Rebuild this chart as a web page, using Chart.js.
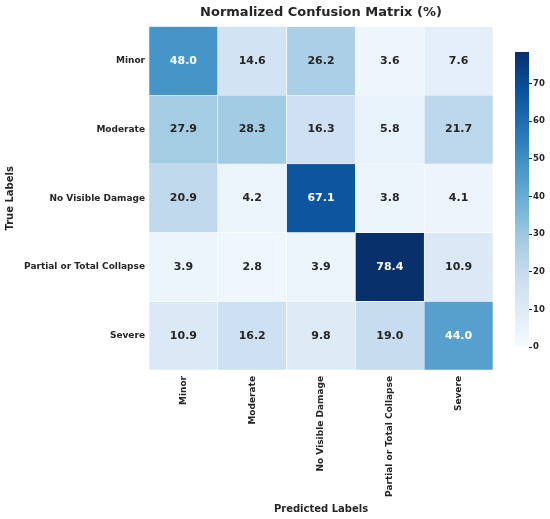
<!DOCTYPE html>
<html>
<head>
<meta charset="utf-8">
<script src="https://cdn.jsdelivr.net/npm/chart.js@4.4.1/dist/chart.umd.min.js"></script>
<style>
  body { margin: 0; background: #fff; }
  #wrap { position: relative; width: 550px; height: 519px; }
  #wrap canvas { position: absolute; left: 0; top: 0; }
</style>
</head>
<body>
<div id="wrap">
  <canvas id="heat" width="550" height="519"></canvas>
  <canvas id="cbar" width="550" height="519"></canvas>
</div>
<script>
"use strict";

const predictedLabels = ["Minor", "Moderate", "No Visible Damage", "Partial or Total Collapse", "Severe"];
const trueLabels = ["Minor", "Moderate", "No Visible Damage", "Partial or Total Collapse", "Severe"];

// one row per true label, in percent
const rowMinor = [48.0, 14.6, 26.2, 3.6, 7.6];
const rowModerate = [27.9, 28.3, 16.3, 5.8, 21.7];
const rowNoDamage = [20.9, 4.2, 67.1, 3.8, 4.1];
const rowCollapse = [3.9, 2.8, 3.9, 78.4, 10.9];
const rowSevere = [10.9, 16.2, 9.8, 19.0, 44.0];
const matrix = [rowMinor, rowModerate, rowNoDamage, rowCollapse, rowSevere];

const colorbarTicks = [0, 10, 20, 30, 40, 50, 60, 70];
const vmin = 0;
const vmax = 78.4;

const FONT = "'DejaVu Sans', sans-serif";
const DARK = "#262626";

// matplotlib "Blues"
const blues = ["#f7fbff", "#deebf7", "#c6dbef", "#9ecae1", "#6baed6", "#4292c6", "#2171b5", "#08519c", "#08306b"];

function hexToRgb(h) {
  return [parseInt(h.slice(1, 3), 16), parseInt(h.slice(3, 5), 16), parseInt(h.slice(5, 7), 16)];
}

function bluesColor(v) {
  let t = (v - vmin) / (vmax - vmin);
  t = Math.max(0, Math.min(1, t));
  const pos = t * (blues.length - 1);
  const i = Math.min(Math.floor(pos), blues.length - 2);
  const f = pos - i;
  const a = hexToRgb(blues[i]);
  const b = hexToRgb(blues[i + 1]);
  const c = a.map((x, k) => Math.round(x + (b[k] - x) * f));
  return `rgb(${c[0]},${c[1]},${c[2]})`;
}

const datasets = matrix.map((row, r) => ({
  label: trueLabels[r],
  data: row.map(() => 1),
  backgroundColor: row.map((v) => bluesColor(v)),
  borderColor: "#ffffff",
  borderWidth: 0.6,
  barPercentage: 1,
  categoryPercentage: 1,
}));

const cellText = {
  id: "cellText",
  afterDatasetsDraw(chart) {
    const ctx = chart.ctx;
    ctx.save();
    ctx.font = "bold 11px " + FONT;
    ctx.textAlign = "center";
    ctx.textBaseline = "middle";
    chart.data.datasets.forEach((ds, r) => {
      const meta = chart.getDatasetMeta(r);
      meta.data.forEach((bar, c) => {
        const v = matrix[r][c];
        ctx.fillStyle = v > 40 ? "#ffffff" : DARK;
        ctx.fillText(v.toFixed(1), bar.x, (bar.y + bar.base) / 2);
      });
    });
    ctx.restore();
  },
};

new Chart(document.getElementById("heat"), {
  type: "bar",
  data: { labels: predictedLabels, datasets: datasets },
  options: {
    responsive: false,
    animation: false,
    layout: { padding: { left: 0, right: 57, top: 0, bottom: 0 } },
    plugins: {
      legend: { display: false },
      tooltip: { enabled: false },
      title: {
        display: true,
        text: "Normalized Confusion Matrix (%)",
        fullSize: false,
        color: DARK,
        font: { family: FONT, size: 13, weight: "bold" },
        padding: { top: 5, bottom: 6 },
      },
    },
    scales: {
      x: {
        stacked: true,
        grid: { display: false, drawTicks: false },
        border: { display: false },
        ticks: {
          minRotation: 90,
          maxRotation: 90,
          autoSkip: false,
          padding: 6,
          color: DARK,
          font: { family: FONT, size: 9, weight: "bold" },
        },
        title: {
          display: true,
          text: "Predicted Labels",
          color: DARK,
          font: { family: FONT, size: 10, weight: "bold" },
          padding: { top: 0, bottom: 4 },
        },
        afterFit(scale) {
          scale.height = 149;
        },
      },
      y: {
        stacked: true,
        min: 0,
        max: 5,
        reverse: true,
        grid: { display: false, drawTicks: false },
        border: { display: false },
        afterBuildTicks(scale) {
          scale.ticks = trueLabels.map((l, i) => ({ value: i + 0.5 }));
        },
        ticks: {
          padding: 4,
          color: DARK,
          font: { family: FONT, size: 9, weight: "bold" },
          callback: (value, index) => trueLabels[index],
        },
        title: {
          display: true,
          text: "True Labels",
          color: DARK,
          font: { family: FONT, size: 10, weight: "bold" },
          padding: { top: 4, bottom: 0 },
        },
        afterFit(scale) {
          scale.width = 149;
        },
      },
    },
  },
  plugins: [cellText],
});

// colorbar as a single floating bar filled with the colormap
new Chart(document.getElementById("cbar"), {
  type: "bar",
  data: {
    labels: [""],
    datasets: [{
      data: [[vmin, vmax]],
      barPercentage: 1,
      categoryPercentage: 1,
      borderWidth: 0,
      backgroundColor(context) {
        const area = context.chart.chartArea;
        if (!area) return blues[4];
        const g = context.chart.ctx.createLinearGradient(0, area.bottom, 0, area.top);
        blues.forEach((c, i) => g.addColorStop(i / (blues.length - 1), c));
        return g;
      },
    }],
  },
  options: {
    responsive: false,
    animation: false,
    layout: { padding: { left: 515, right: 0, top: 52, bottom: 172 } },
    plugins: { legend: { display: false }, tooltip: { enabled: false } },
    scales: {
      x: { display: false },
      y: {
        position: "right",
        min: vmin,
        max: vmax,
        border: { display: false },
        grid: { drawOnChartArea: false, drawTicks: true, tickLength: 3, color: DARK },
        afterBuildTicks(scale) {
          scale.ticks = colorbarTicks.map((v) => ({ value: v }));
        },
        ticks: {
          padding: 1,
          color: DARK,
          font: { family: FONT, size: 8.5, weight: "bold" },
        },
        afterFit(scale) {
          scale.width = 21;
        },
      },
    },
  },
});
</script>
</body>
</html>
